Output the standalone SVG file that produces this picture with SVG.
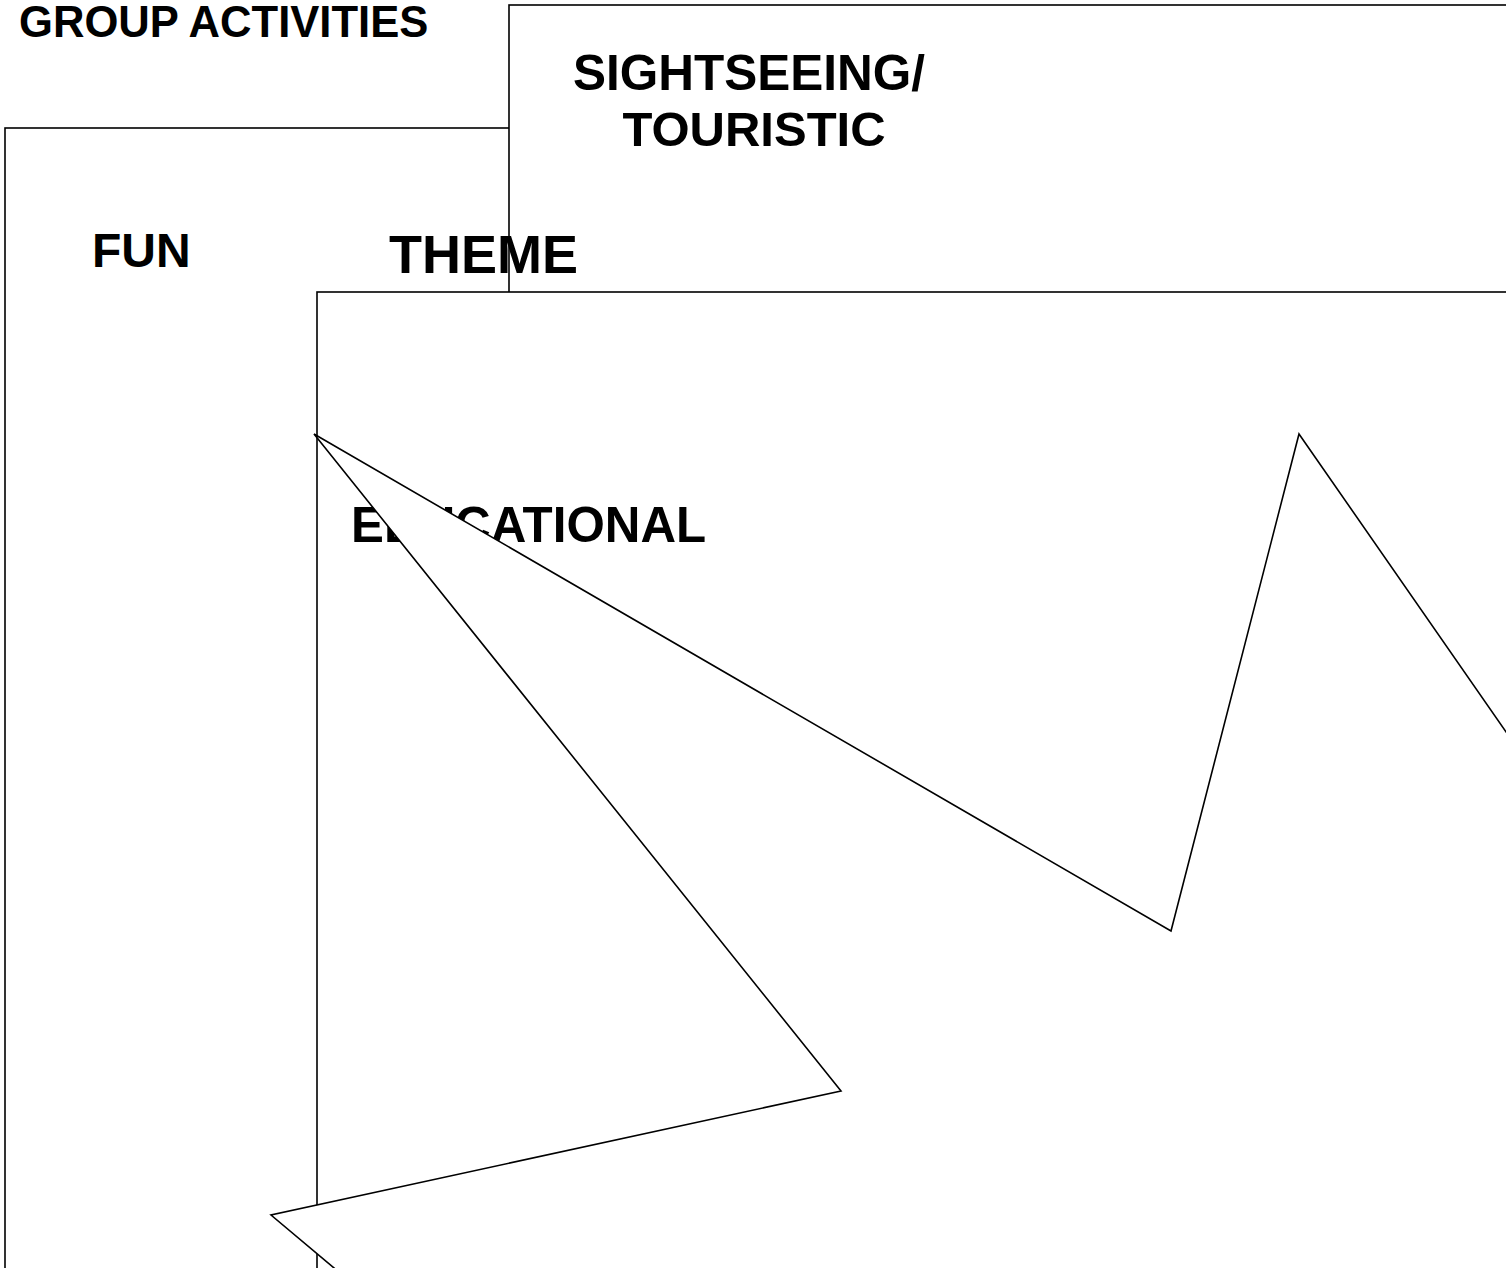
<svg xmlns="http://www.w3.org/2000/svg" width="1506" height="1268" viewBox="0 0 1506 1268">
<style>
.box{fill:#fff;stroke:#000;stroke-width:1.6}
.lbl{font-family:"Liberation Sans",Arial,sans-serif;font-weight:bold;fill:#000}
.burst{fill:#fff;stroke:#000;stroke-width:1.6;stroke-linejoin:miter}
</style>
<rect width="1506" height="1268" fill="#fff"/>
<g id="title">
<text class="lbl" x="19" y="37" font-size="43.6">GROUP ACTIVITIES</text>
</g>
<g id="fun">
<rect class="box" x="5" y="128" width="1600" height="1300"/>
<text class="lbl" x="92" y="267" font-size="48">FUN</text>
</g>
<g id="sightseeing">
<rect class="box" x="509" y="5" width="1200" height="1400"/>
<text class="lbl" x="749" y="90" font-size="49.5" text-anchor="middle">SIGHTSEEING/</text>
<text class="lbl" x="754" y="146" font-size="49" text-anchor="middle">TOURISTIC</text>
</g>
<g id="theme">
<text class="lbl" x="389" y="273" font-size="54">THEME</text>
</g>
<g id="educational">
<rect class="box" x="317" y="292" width="1300" height="1100"/>
<text class="lbl" x="351" y="542" font-size="49.3">EDUCATIONAL</text>
</g>
<g id="connectors">
<polygon class="burst" points="1299,434 1600,867 1600,1315 390,1315 271,1215 841,1091 314,434 1171,931"/>
</g>
</svg>
